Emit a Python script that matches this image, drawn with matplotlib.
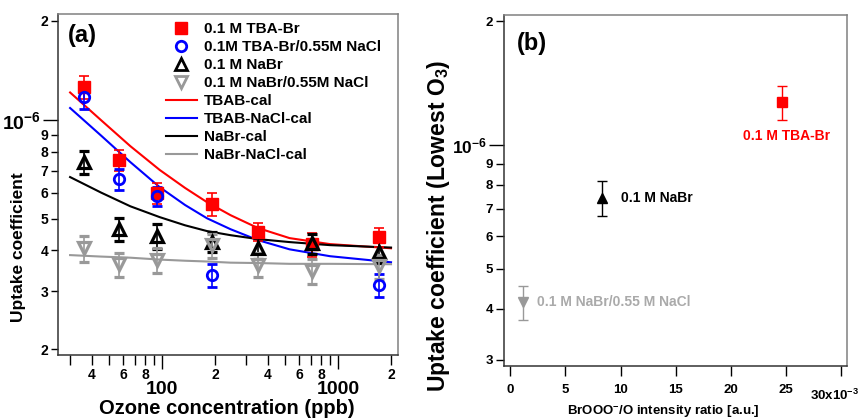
import numpy as np
import matplotlib
matplotlib.use('Agg')
import matplotlib.pyplot as plt
from matplotlib.lines import Line2D
from matplotlib.transforms import ScaledTranslation

plt.rcParams['font.family'] = ['Liberation Sans', 'DejaVu Sans']
plt.rcParams['font.weight'] = 'bold'
plt.rcParams['mathtext.fontset'] = 'custom'
plt.rcParams['mathtext.rm'] = 'Liberation Sans:bold'
plt.rcParams['mathtext.bf'] = 'Liberation Sans:bold'
plt.rcParams['mathtext.default'] = 'bf'

# panel (a): measured uptake coefficients vs ozone concentration (ppb)
conc = [36, 57, 93, 192, 352, 712, 1710]
tbab = [12.6e-7, 7.54e-7, 5.98e-7, 5.53e-7, 4.56e-7, 4.18e-7, 4.39e-7]
tbab_err = [1.0e-7, 0.55e-7, 0.45e-7, 0.45e-7, 0.3e-7, 0.35e-7, 0.3e-7]
tbab_nacl = [11.7e-7, 6.59e-7, 5.85e-7, 3.37e-7, np.nan, np.nan, 3.13e-7]
tbab_nacl_err = [0.9e-7, 0.5e-7, 0.4e-7, 0.27e-7, np.nan, np.nan, 0.25e-7]
nabr = [7.43e-7, 4.65e-7, 4.43e-7, 4.25e-7, 4.06e-7, 4.2e-7, 3.96e-7]
nabr_err = [0.6e-7, 0.38e-7, 0.38e-7, 0.3e-7, 0.3e-7, 0.3e-7, 0.3e-7]
nabr_nacl = [4.06e-7, 3.63e-7, 3.74e-7, 4.15e-7, 3.62e-7, 3.46e-7, 3.58e-7]
nabr_nacl_err = [0.38e-7, 0.3e-7, 0.32e-7, 0.35e-7, 0.3e-7, 0.3e-7, 0.3e-7]

# calculated curves
conc_cal = [30, 45, 66, 97, 135, 180, 245, 350, 530, 900, 2000]
tbab_cal = [12.11e-7, 9.97e-7, 8.31e-7, 7.03e-7, 6.20e-7, 5.61e-7, 5.12e-7, 4.68e-7, 4.36e-7, 4.18e-7, 4.06e-7]
tbab_nacl_cal = [10.86e-7, 8.95e-7, 7.43e-7, 6.23e-7, 5.50e-7, 5.01e-7, 4.64e-7, 4.30e-7, 4.03e-7, 3.84e-7, 3.68e-7]
nabr_cal = [6.69e-7, 6.00e-7, 5.45e-7, 5.05e-7, 4.77e-7, 4.58e-7, 4.45e-7, 4.33e-7, 4.24e-7, 4.15e-7, 4.08e-7]
nabr_nacl_cal = [3.87e-7, 3.83e-7, 3.80e-7, 3.75e-7, 3.72e-7, 3.70e-7, 3.67e-7, 3.66e-7, 3.64e-7, 3.64e-7, 3.63e-7]

# panel (b): uptake at lowest O3 vs BrOOO-/O ratio (x10^-3)
ratio = [24.6, 8.3, 1.2]
uptake_low = [1.27e-6, 7.44e-7, 4.15e-7]
uptake_low_err = [0.12e-6, 0.72e-7, 0.4e-7]
names_b = ['0.1 M TBA-Br', '0.1 M NaBr', '0.1 M NaBr/0.55 M NaCl']

RED = '#ff0000'
BLUE = '#0000ff'
GRAY = '#999999'
LGRAY = '#aaaaaa'

fig = plt.figure(figsize=(8.64, 4.19), dpi=100)
ax1 = fig.add_axes([0.0671, 0.1527, 0.3935, 0.8139])
ax2 = fig.add_axes([0.5833, 0.1265, 0.3970, 0.8377])

# ---- panel (a)
ax1.set_xscale('log')
ax1.set_yscale('log')
ax1.plot(conc_cal, tbab_cal, color=RED, lw=1.5)
ax1.plot(conc_cal, tbab_nacl_cal, color=BLUE, lw=1.5)
ax1.plot(conc_cal, nabr_cal, color='black', lw=1.5)
ax1.plot(conc_cal, nabr_nacl_cal, color=GRAY, lw=1.5)

eb = dict(capsize=3.5, elinewidth=1.2, capthick=1.2, ls='none')
ax1.errorbar(conc, tbab, yerr=tbab_err, fmt='s', color=RED, ms=8.5, **eb)
ax1.errorbar(conc, tbab_nacl, yerr=tbab_nacl_err, fmt='o', color=BLUE, ms=7.5,
             mfc='none', mew=2, **eb)
ax1.errorbar(conc, nabr, yerr=nabr_err, fmt='^', color='black', ms=8.5,
             mfc='none', mew=2.3, **eb)
ax1.errorbar(conc, nabr_nacl, yerr=nabr_nacl_err, fmt='v', color=GRAY, ms=8.5,
             mfc='none', mew=2.3, **eb)

ax1.set_xlim(25.6, 2190)
ax1.set_ylim(1.92e-7, 2.1e-6)

ax1.set_xticks([100, 1000], labels=['100', '1000'])
xminor = [30, 40, 50, 60, 70, 80, 90, 200, 300, 400, 500, 600, 700, 800, 900, 2000]
xminor_lab = ['', '4', '', '6', '', '8', '', '2', '', '4', '', '6', '', '8', '', '2']
ax1.set_xticks(xminor, labels=xminor_lab, minor=True)
ax1.set_yticks([1e-6], labels=['$10^{-6}$'])
yminor = [2e-7, 3e-7, 4e-7, 5e-7, 6e-7, 7e-7, 8e-7, 9e-7, 2e-6]
ax1.set_yticks(yminor, labels=['2', '3', '4', '5', '6', '7', '8', '9', '2'], minor=True)

ax1.tick_params(axis='x', which='major', length=10, width=1, labelsize=14, pad=9)
ax1.tick_params(axis='x', which='minor', length=7, width=1, labelsize=10, pad=2)
ax1.tick_params(axis='y', which='major', length=11, width=1, labelsize=14, pad=1)
ax1.tick_params(axis='y', which='minor', length=5, width=1, labelsize=10, pad=2)

ax1.set_xlabel('Ozone concentration (ppb)', fontsize=14.5, fontweight='bold')
ax1.xaxis.set_label_coords(0.497, -0.128)
ax1.set_ylabel('Uptake coefficient', fontsize=12.5, fontweight='bold')
ax1.yaxis.set_label_coords(-0.095, 0.317)
ax1.text(0.03, 0.938, '(a)', transform=ax1.transAxes, fontsize=17,
         fontweight='bold', va='center', ha='left')

handles = [
    Line2D([], [], ls='none', marker='s', color=RED, ms=8.5),
    Line2D([], [], ls='none', marker='o', color=BLUE, ms=7.5, mfc='none', mew=2),
    Line2D([], [], ls='none', marker='^', color='black', ms=8.5, mfc='none', mew=2),
    Line2D([], [], ls='none', marker='v', color=GRAY, ms=8.5, mfc='none', mew=2),
    Line2D([], [], color=RED, lw=1.5),
    Line2D([], [], color=BLUE, lw=1.5),
    Line2D([], [], color='black', lw=1.5),
    Line2D([], [], color=GRAY, lw=1.5),
]
labels = ['0.1 M TBA-Br', '0.1M TBA-Br/0.55M NaCl', '0.1 M NaBr',
          '0.1 M NaBr/0.55M NaCl', 'TBAB-cal', 'TBAB-NaCl-cal', 'NaBr-cal',
          'NaBr-NaCl-cal']
ax1.legend(handles, labels, loc='upper left', bbox_to_anchor=(0.318, 0.976),
           frameon=False, prop={'weight': 'bold', 'size': 11},
           handlelength=2.0, handletextpad=0.46, labelspacing=0.26,
           borderaxespad=0, borderpad=0)

# ---- panel (b)
ax2.set_yscale('log')
marks = ['s', '^', 'v']
cols = [RED, 'black', GRAY]
for xv, yv, ev, m, c in zip(ratio, uptake_low, uptake_low_err, marks, cols):
    ax2.errorbar([xv], [yv], yerr=[ev], fmt=m, color=c, ms=6.5, capsize=3.5,
                 elinewidth=1, capthick=1)
ax2.text(ratio[0] + 0.4, 1.05e-6, names_b[0], color=RED, fontsize=10,
         fontweight='bold', ha='center', va='center')
ax2.text(ratio[1] + 1.7, uptake_low[1], names_b[1], color='black', fontsize=10,
         fontweight='bold', ha='left', va='center')
ax2.text(ratio[2] + 1.2, uptake_low[2], names_b[2], color=LGRAY, fontsize=10,
         fontweight='bold', ha='left', va='center')

ax2.set_xlim(-0.55, 30.5)
ax2.set_ylim(2.9e-7, 2.07e-6)
ax2.set_xticks([0, 5, 10, 15, 20, 25, 30],
               labels=['0', '5', '10', '15', '20', '25', '30x10$^{-3}$'])
ax2.set_yticks([1e-6], labels=['$10^{-6}$'])
ax2.set_yticks([3e-7, 4e-7, 5e-7, 6e-7, 7e-7, 8e-7, 9e-7, 2e-6],
               labels=['3', '4', '5', '6', '7', '8', '9', '2'], minor=True)
ax2.tick_params(axis='x', length=7, width=1, labelsize=9.5, pad=6)
ax2.tick_params(axis='y', which='major', length=11, width=1, labelsize=12.5, pad=1)
ax2.tick_params(axis='y', which='minor', length=6, width=1, labelsize=9.5, pad=2)
# last x label sits a bit left and lower, as in the original
last = ax2.get_xticklabels()[-1]
last.set_transform(last.get_transform() + ScaledTranslation(-5 / 72, -3 / 72, fig.dpi_scale_trans))

ax2.set_xlabel('BrOOO$^{-}$/O intensity ratio [a.u.]', fontsize=9.5, fontweight='bold')
ax2.xaxis.set_label_coords(0.465, -0.108)
ax2.set_ylabel('Uptake coefficient (Lowest O$_3$)', fontsize=16.5, fontweight='bold')
ax2.yaxis.set_label_coords(-0.152, 0.40)
ax2.text(0.038, 0.92, '(b)', transform=ax2.transAxes, fontsize=17,
         fontweight='bold', va='center', ha='left')

for ax in (ax1, ax2):
    for s in ('top', 'right'):
        ax.spines[s].set_color('#808080')
    for s in ('left', 'bottom'):
        ax.spines[s].set_color('#333333')
    for s in ax.spines.values():
        s.set_linewidth(1.1)

fig.savefig('out.png', dpi=100)
